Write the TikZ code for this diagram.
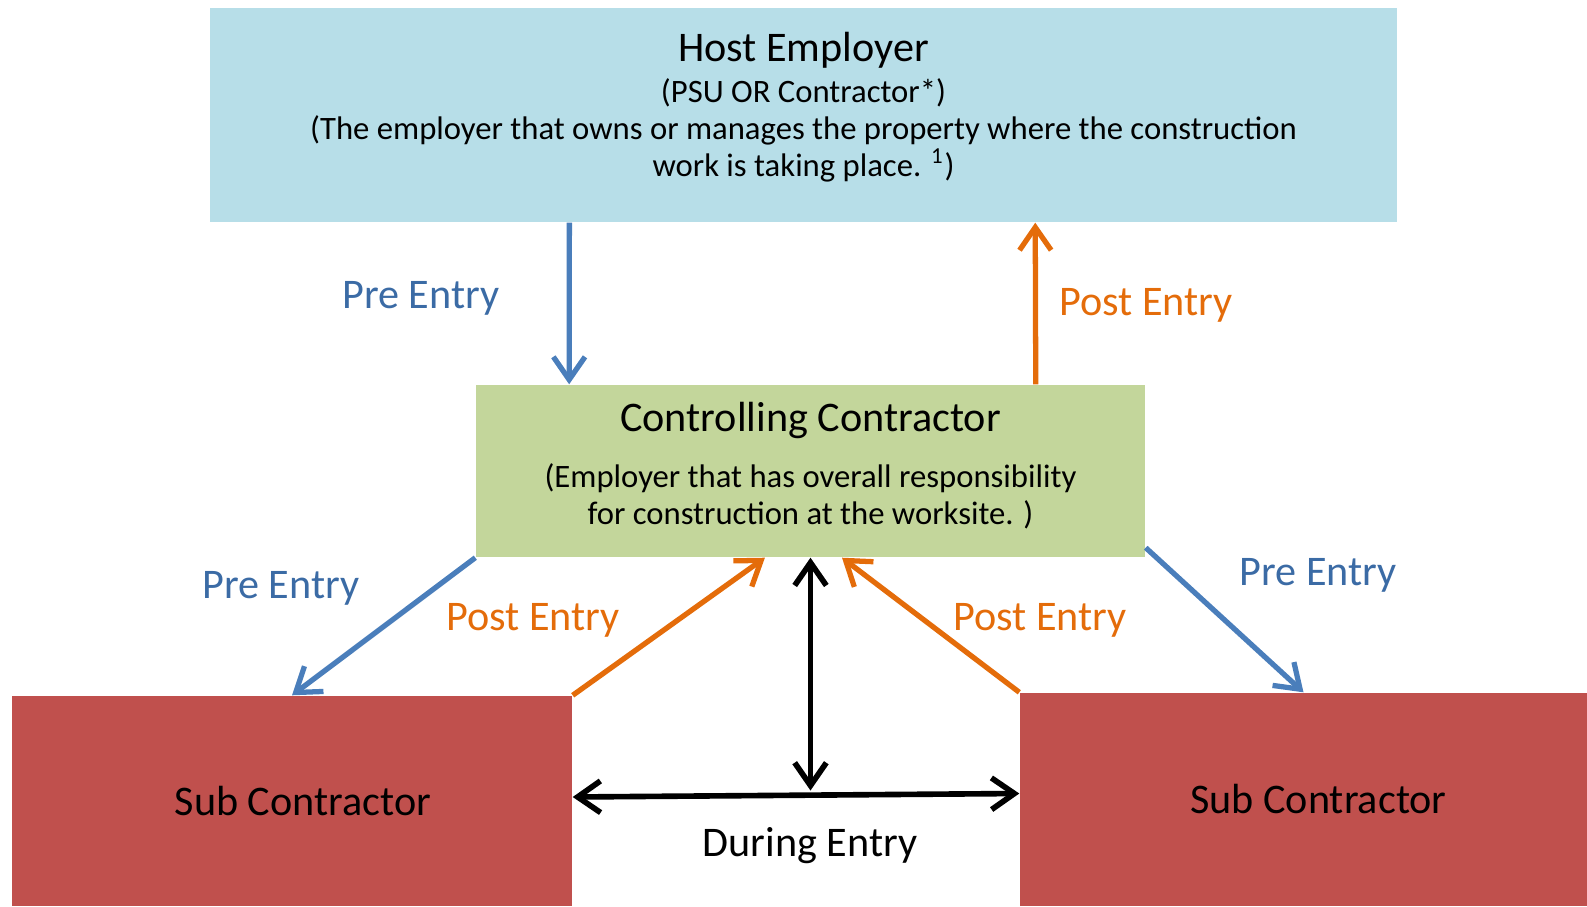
\documentclass[tikz,border=0pt]{standalone}
\usepackage{fontspec}
\setmainfont{Carlito}
\usetikzlibrary{calc}
\usetikzlibrary{arrows.meta}
\definecolor{hostblue}{HTML}{B7DEE8}
\definecolor{ctrlgreen}{HTML}{C3D69B}
\definecolor{subred}{HTML}{C0504D}
\definecolor{preblue}{HTML}{4A7EBB}
\definecolor{pretext}{HTML}{3B6BA5}
\definecolor{postorange}{HTML}{E46C0A}
\newcommand*{\titlesz}{\fontsize{12}{14}\selectfont}
\newcommand*{\bodysz }{\fontsize{9.3}{10.6}\selectfont}
\newcommand*{\lblsz  }{\fontsize{12}{14}\selectfont}

\begin{document}
\begin{tikzpicture}[
        box/.style     = {draw=none, inner sep=0pt, align=center, text=black},
        prearr/.style  = {preblue, line width=1.5pt, -{Straight Barb[length=6.5pt,width=9pt]}},
        postarr/.style = {postorange, line width=1.5pt, -{Straight Barb[length=6.5pt,width=9pt]}},
        durarr/.style  = {black, line width=1.6pt, {Straight Barb[length=6.5pt,width=9pt]}-{Straight Barb[length=6.5pt,width=9pt]}},
        prelbl/.style  = {text=pretext, font=\lblsz},
        postlbl/.style = {text=postorange, font=\lblsz}]
    \useasboundingbox (0,0) rectangle (15.87,-9.06);
        % boxes
        \node [box, fill=hostblue, minimum width=11.87cm, minimum height=2.14cm, font=\bodysz, text depth=6pt] (host) at (8.035,-1.15)
            {{\titlesz Host Employer}\\[1pt] (PSU OR Contractor*)\\ (The employer that owns or manages the property where the construction\\ work is taking place. \textsuperscript{1})};
        \node [box, fill=ctrlgreen, minimum width=6.69cm, minimum height=1.72cm, font=\bodysz, text depth=4.4pt] (ctrl) at (8.105,-4.71)
            {{\titlesz Controlling Contractor}\\[5.5pt] (Employer that has overall responsibility\\ for construction at the worksite. )};
        \node [box, fill=subred, minimum width=5.60cm, minimum height=2.10cm, font=\titlesz] (subL) at (2.92,-8.01) {\hspace*{0.22cm}Sub Contractor};
        \node [box, fill=subred, minimum width=5.67cm, minimum height=2.13cm, font=\titlesz] (subR) at (13.035,-7.995) {\hspace*{0.3cm}Sub Contractor};
        % arrows
        \draw [prearr]  ($(host.south west)!0.303!(host.south east)$) -- ($(ctrl.north west)!0.14!(ctrl.north east)$);
        \draw [postarr] ($(ctrl.north west)!0.836!(ctrl.north east)$) -- ($(host.south west)!0.695!(host.south east)$);
        \draw [prearr]  (ctrl.south west) -- (subL.north);
        \draw [postarr] (subL.north east) -- ($(ctrl.south west)!0.432!(ctrl.south east)$);
        \draw [postarr] (subR.north west) -- ($(ctrl.south west)!0.547!(ctrl.south east)$);
        \draw [prearr]  ([yshift=0.1cm]ctrl.south east) -- (subR.north);
        \draw [durarr]  ([yshift=0.04cm]subL.east) -- ([yshift=0.06cm]subR.west);
        \draw [durarr]  (ctrl.south) -- ([yshift=0.09cm]ctrl.south |- subR.west);
        % labels
        \node [prelbl]  (pre1)  at (4.21,-2.98)  {Pre Entry};
        \node [postlbl] (post1) at (11.46,-3.05) {Post Entry};
        \node [prelbl]  (pre2)  at (2.81,-5.88)  {Pre Entry};
        \node [postlbl] (post2) at (5.33,-6.20)  {Post Entry};
        \node [postlbl] (post3) at (10.40,-6.20) {Post Entry};
        \node [prelbl]  (pre3)  at (13.18,-5.75) {Pre Entry};
        \node [font=\lblsz] (dur) at (8.10,-8.46) {During Entry};
    \end{tikzpicture}
\end{document}
